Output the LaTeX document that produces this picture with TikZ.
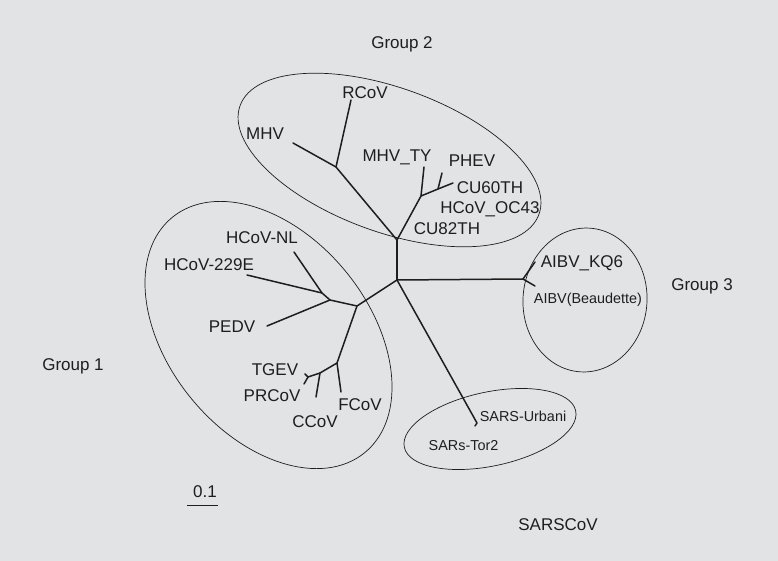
\documentclass[tikz,border=0pt]{standalone}
\usepackage{fontspec}
\setmainfont{Liberation Sans}
\definecolor{bgc}{RGB}{226,227,229}
\definecolor{ink}{RGB}{30,30,30}
\begin{document}
\begin{tikzpicture}[x=1pt,y=-1pt,
  br/.style={draw=ink,line width=1.5pt,line cap=round,line join=round},
  ell/.style={draw=ink,line width=0.7pt},
  lab/.style={inner sep=0pt,anchor=base,text=ink,font=\fontsize{17}{20}\selectfont},
  slab/.style={inner sep=0pt,anchor=base,text=ink,font=\fontsize{14.4}{17}\selectfont}]
\fill[bgc] (0,0) rectangle (778,561);
\useasboundingbox (0,0) rectangle (778,561);
% ellipses
\draw[ell,shift={(389.5,160)},rotate=-20] (0,0) ellipse [x radius=159pt,y radius=72pt];
\draw[ell,shift={(268.5,335)},rotate=-50.7] (0,0) ellipse [x radius=152pt,y radius=100pt];
\draw[ell,shift={(585,300)},rotate=-4] (0,0) ellipse [x radius=62pt,y radius=72pt];
\draw[ell,shift={(490,429)},rotate=12] (0,0) ellipse [x radius=87.6pt,y radius=37pt];
% tree coordinates
\coordinate (rcov) at (351,100);
\coordinate (mhv) at (293,143);
\coordinate (j1) at (336,167);
\coordinate (c2) at (397,240);
\coordinate (j2) at (421,196);
\coordinate (mhvty) at (424,167);
\coordinate (j3) at (438,189);
\coordinate (phev) at (442,173);
\coordinate (cu60) at (453,183);
\coordinate (c3) at (397,280);
\coordinate (g1a) at (357,306);
\coordinate (j4) at (330,300);
\coordinate (j5) at (322,293);
\coordinate (nl) at (294,252);
\coordinate (e229) at (247,275);
\coordinate (pedv) at (267,326);
\coordinate (j6) at (337,363);
\coordinate (fcov) at (341,392);
\coordinate (j7) at (320,373);
\coordinate (ccov) at (316,397);
\coordinate (j8) at (308,377);
\coordinate (prcov) at (304,384);
\coordinate (tgev) at (305,374);
\coordinate (j9) at (523,279);
\coordinate (kq6) at (535,262);
\coordinate (beau) at (535,286);
\coordinate (sars) at (477,423);
\coordinate (tor) at (475,426);
% branches
\draw[br] (mhv) -- (j1) -- (c2);
\draw[br] (rcov) -- (j1);
\draw[br] (c2) -- (j2) -- (mhvty);
\draw[br] (j2) -- (j3) -- (cu60);
\draw[br] (j3) -- (phev);
\draw[br] (c2) -- (c3);
\draw[br] (c3) -- (g1a) -- (j4) -- (j5) -- (nl);
\draw[br] (j5) -- (e229);
\draw[br] (j4) -- (pedv);
\draw[br] (g1a) -- (j6) -- (fcov);
\draw[br] (j6) -- (j7) -- (ccov);
\draw[br] (j7) -- (j8) -- (prcov);
\draw[br] (j8) -- (tgev);
\draw[br] (c3) -- (j9) -- (kq6);
\draw[br] (j9) -- (beau);
\draw[br] (c3) -- (sars) -- (tor);
% labels
\node[lab] (lrcov) at (365,98.3) {RCoV};
\node[lab] (lmhv) at (265,140) {MHV};
\node[lab] (lmhvty) at (397,161.5) {MHV\_TY};
\node[lab] (lphev) at (472,166.7) {PHEV};
\node[lab] (lcu60) at (490,194) {CU60TH};
\node[lab] (loc43) at (490,213.3) {HCoV\_OC43};
\node[lab] (lcu82) at (447,235) {CU82TH};
\node[lab] (lnl) at (262,243.3) {HCoV-NL};
\node[lab] (l229) at (209,270.7) {HCoV-229E};
\node[lab] (lpedv) at (232,332.7) {PEDV};
\node[lab] (ltgev) at (275,375) {TGEV};
\node[lab] (lprcov) at (272,401.7) {PRCoV};
\node[lab] (lfcov) at (360,410) {FCoV};
\node[lab] (lccov) at (315,427.3) {CCoV};
\node[lab] (lkq6) at (582,267.7) {AIBV\_KQ6};
\node[slab] (lbeau) at (588,303.3) {AIBV(Beaudette)};
\node[slab] (lurb) at (523,421.7) {SARS-Urbani};
\node[slab] (ltor) at (463.5,450.7) {SARs-Tor2};
\node[lab] (g2) at (402,48.3) {Group 2};
\node[lab] (g1) at (73,370.7) {Group 1};
\node[lab] (g3) at (702,290) {Group 3};
\node[lab] (gs) at (558,530.7) {SARSCoV};
\node[lab] (sc) at (205,497) {0.1};
\coordinate (sb1) at (187,505);
\coordinate (sb2) at (218,505);
\draw[draw=ink,line width=0.8pt] (sb1) -- (sb2);
\end{tikzpicture}
\end{document}
